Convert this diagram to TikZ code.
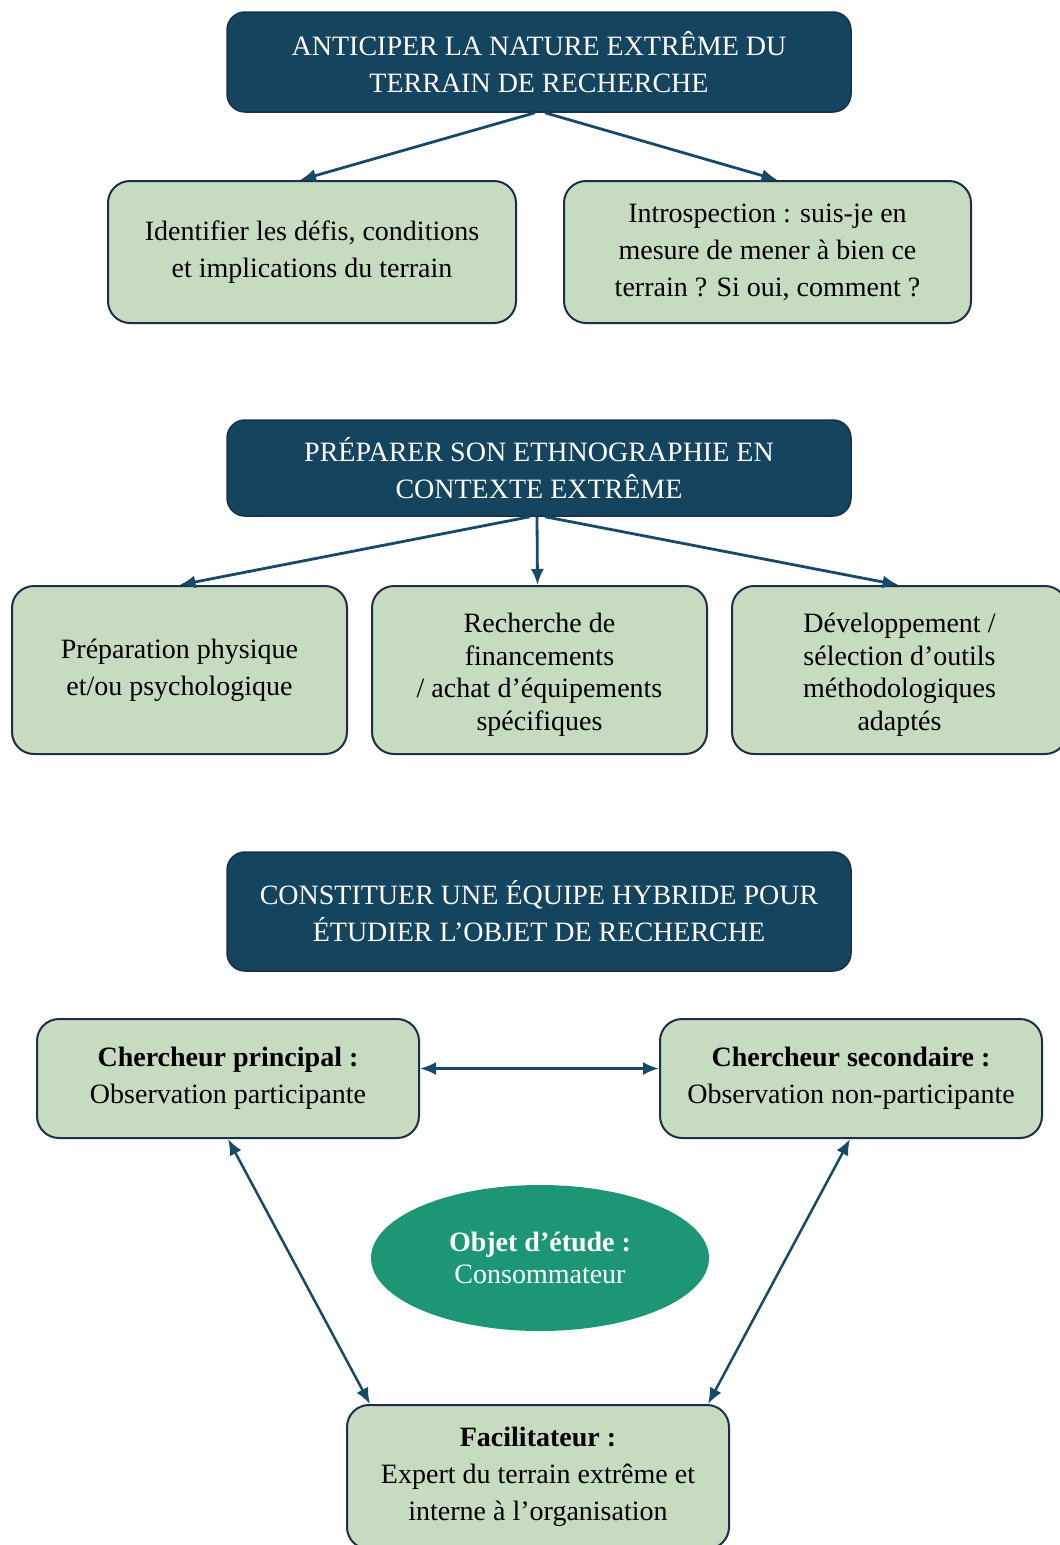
\documentclass[tikz,border=0pt]{standalone}
\usepackage{fontspec}
\setmainfont{Liberation Serif}
\usetikzlibrary{arrows.meta,shapes.geometric}
\definecolor{hdrc}{HTML}{15445F}
\definecolor{edgec}{HTML}{1C2E4C}
\definecolor{boxc}{HTML}{C7DBC1}
\definecolor{arrc}{HTML}{174A68}
\definecolor{ellc}{HTML}{1D9676}
\begin{document}
\begin{tikzpicture}[x=1pt,y=-1pt,
  every node/.style={font=\fontsize{28}{37}\selectfont, inner sep=0pt, align=center},
  hdr/.style={rounded corners=18pt, fill=hdrc, draw=edgec, line width=1.5pt, text=white, minimum width=624pt},
  gbox/.style={rounded corners=22pt, fill=boxc, draw=edgec, line width=2pt},
  tight/.style={font=\fontsize{28}{32.5}\selectfont},
  arr/.style={draw=arrc, line width=2.8pt, -{Latex[length=16pt,width=13pt]}},
  darr/.style={draw=arrc, line width=2.5pt, {Latex[length=16pt,width=13pt]}-{Latex[length=16pt,width=13pt]}}
]
\useasboundingbox (0,0) rectangle (1060,1545);
\fill[white] (0,0) rectangle (1060,1545);

% Section 1
\node[hdr, minimum height=100pt] (h1) at (539,62) {ANTICIPER LA NATURE EXTRÊME DU\\TERRAIN DE RECHERCHE};
\node[gbox, minimum width=408pt, minimum height=142pt] (a1) at (312,252) {Identifier les défis, conditions\\et implications du terrain};
\node[gbox, minimum width=407pt, minimum height=142pt] (a2) at (767.5,252) {Introspection : suis-je en\\mesure de mener à bien ce\\terrain ? Si oui, comment ?};
\draw[arr] ([xshift=-4pt]h1.south) -- ([xshift=-12pt]a1.north);
\draw[arr] ([xshift=6pt]h1.south) -- ([xshift=10pt]a2.north);

% Section 2
\node[hdr, minimum height=96pt] (h2) at (539,468) {PRÉPARER SON ETHNOGRAPHIE EN\\CONTEXTE EXTRÊME};
\node[gbox, minimum width=335pt, minimum height=168pt] (b1) at (179.5,670) {Préparation physique\\et/ou psychologique};
\node[gbox, tight, minimum width=335pt, minimum height=168pt] (b2) at (539.5,670) {\rule{0pt}{29pt}Recherche de\\financements\\/ achat d’équipements\\spécifiques};
\node[gbox, tight, minimum width=335pt, minimum height=168pt] (b3) at (899.5,670) {\rule{0pt}{29pt}Développement /\\sélection d’outils\\méthodologiques\\adaptés};
\draw[arr] ([xshift=-9pt]h2.south) -- (b1.north);
\draw[arr] ([xshift=-2pt]h2.south) -- ([xshift=-2pt]b2.north);
\draw[arr] ([xshift=6pt]h2.south) -- ([xshift=-1pt]b3.north);

% Section 3
\node[hdr, minimum height=119pt] (h3) at (539,911.5) {CONSTITUER UNE ÉQUIPE HYBRIDE POUR\\ÉTUDIER L’OBJET DE RECHERCHE};
\node[gbox, minimum width=382pt, minimum height=119pt] (c1) at (228,1078.5) {\textbf{Chercheur principal :}\\Observation participante};
\node[gbox, minimum width=382pt, minimum height=119pt] (c2) at (851,1078.5) {\textbf{Chercheur secondaire :}\\Observation non-participante};
\node[ellipse, fill=ellc, text=white, minimum width=338pt, minimum height=146pt, font=\fontsize{28}{32}\selectfont] (obj) at (540,1258) {\textbf{Objet d’étude :}\\Consommateur};
\node[gbox, minimum width=382pt, minimum height=144pt] (fac) at (538,1477) {\textbf{Facilitateur :}\\Expert du terrain extrême et\\interne à l’organisation};
\draw[darr] ([yshift=10pt]c1.east) -- ([yshift=10pt]c2.west);
\draw[darr] (c1.south) -- ([xshift=-168pt]fac.north);
\draw[darr] ([xshift=-1pt]c2.south) -- ([xshift=170pt]fac.north);
\end{tikzpicture}
\end{document}
